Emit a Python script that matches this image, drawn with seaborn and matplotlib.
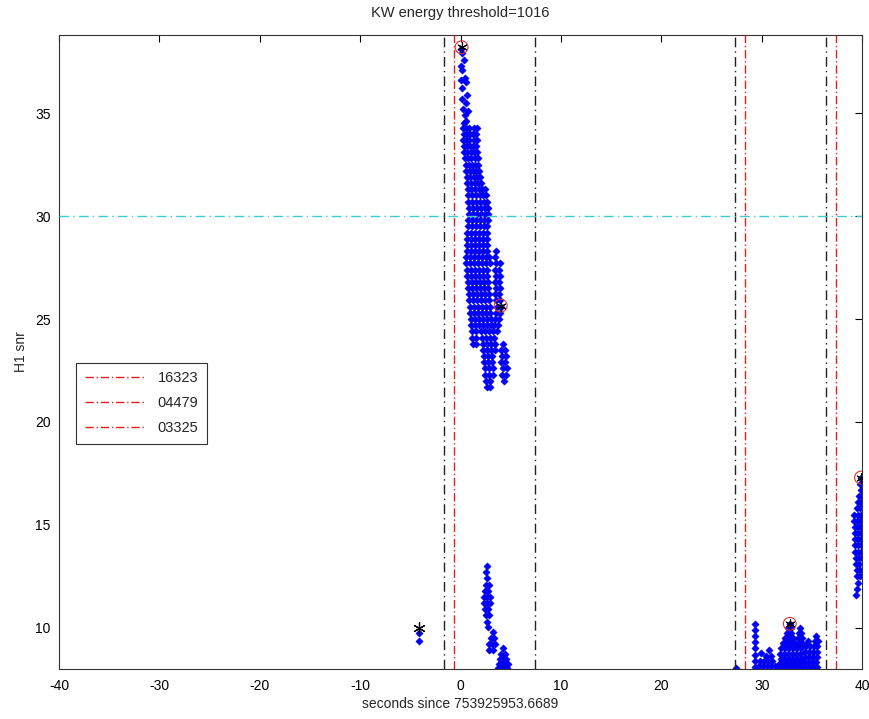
import numpy as np
import pandas as pd
import matplotlib
matplotlib.use("Agg")
import matplotlib.pyplot as plt
import seaborn as sns
from matplotlib.lines import Line2D

# sparse tail at the top of the main burst (x, y)
top_x = [0.07, 0.17, 0.3, 0.07, 0.17, 0.4, 0.07, 0.5, 0.17, 0.67, 0.17, 0.5, 0.23, 0.77, 0.4, 0.57, 0.33]
top_y = [38.1, 37.9, 37.6, 37.3, 37.1, 36.7, 36.6, 36.5, 36.2, 35.9, 35.7, 35.5, 35.2, 35.1, 34.9, 34.6, 34.5]

# dense part of the main burst, one row per y value
main_rows_y = [34.3, 34.0, 33.7, 33.4, 33.1, 32.8, 32.5, 32.2, 31.9, 31.6, 31.3, 31.0, 30.7, 30.4,
               30.1, 29.8, 29.5, 29.2, 28.9, 28.6, 28.3, 28.0, 27.7, 27.4, 27.1, 26.8, 26.5, 26.2,
               25.9, 25.6, 25.3, 25.0, 24.7, 24.4, 24.1, 23.8, 23.5, 23.2, 22.9, 22.6, 22.3, 22.0, 21.7]
main_rows_x = [
    [0.2, 0.5, 0.8, 1.3, 1.6], [0.3, 0.6, 0.9, 1.2, 1.5], [0.2, 0.5, 0.8, 1.3, 1.6],
    [0.3, 0.6, 0.9, 1.2, 1.5], [0.3, 0.6, 1.0, 1.3, 1.6], [0.4, 0.7, 1.0, 1.4, 1.7],
    [0.5, 0.8, 1.1, 1.4, 1.7], [0.5, 0.9, 1.2, 1.5, 1.8], [0.6, 0.9, 1.3, 1.6, 1.9],
    [0.6, 1.0, 1.4, 1.7, 2.0], [0.7, 1.0, 1.4, 1.8, 2.1, 2.4], [0.7, 1.1, 1.5, 1.9, 2.2, 2.5],
    [0.7, 1.1, 1.5, 1.9, 2.3, 2.6], [0.8, 1.2, 1.6, 2.0, 2.4, 2.7], [0.8, 1.2, 1.6, 2.0, 2.4, 2.7],
    [0.7, 1.1, 1.5, 1.9, 2.3, 2.7], [0.7, 1.1, 1.5, 1.9, 2.3, 2.6], [0.6, 1.0, 1.4, 1.8, 2.2, 2.6],
    [0.6, 1.0, 1.4, 1.8, 2.2, 2.6], [0.6, 1.0, 1.4, 1.8, 2.2, 2.6], [0.6, 1.0, 1.4, 1.8, 2.2, 2.6, 3.5],
    [0.5, 0.9, 1.3, 1.7, 2.1, 2.5, 2.8, 3.4], [0.5, 0.9, 1.3, 1.7, 2.1, 2.5, 2.9, 3.5, 3.9],
    [0.6, 1.0, 1.4, 1.8, 2.2, 2.6, 3.4, 3.8], [0.6, 1.0, 1.4, 1.8, 2.2, 2.6, 3.5, 3.9],
    [0.7, 1.1, 1.5, 1.9, 2.3, 2.7, 3.4, 3.8], [0.7, 1.1, 1.5, 1.9, 2.3, 2.7, 3.5, 3.9],
    [0.8, 1.2, 1.6, 2.0, 2.4, 2.8, 3.4, 3.8], [0.8, 1.2, 1.6, 2.0, 2.4, 2.8, 3.5, 3.9],
    [0.9, 1.3, 1.7, 2.1, 2.5, 2.9, 3.6, 4.0], [0.9, 1.3, 1.7, 2.1, 2.5, 2.9, 3.5, 3.9],
    [1.0, 1.4, 1.8, 2.2, 2.6, 3.0, 3.4, 3.8], [1.0, 1.4, 1.8, 2.2, 2.6, 3.0, 3.3, 3.7],
    [1.1, 1.5, 2.0, 2.4, 2.8, 3.2, 3.6], [1.1, 1.5, 2.1, 2.5, 2.9, 3.3],
    [1.2, 1.5, 2.2, 2.6, 3.0, 3.4, 4.2], [2.2, 2.6, 3.0, 3.4, 4.0, 4.4], [2.3, 2.7, 3.1, 4.1, 4.5],
    [2.3, 2.7, 3.1, 4.0, 4.4], [2.4, 2.8, 3.2, 4.2, 4.6], [2.4, 2.8, 3.2, 4.1, 4.5],
    [2.5, 2.9, 4.3], [2.6, 2.9],
]

# low-snr trail below the main burst
low_x = [2.6, 2.5, 2.6, 2.5, 2.8, 2.4, 2.7, 2.3, 2.6, 2.9, 2.3, 2.6, 2.9, 2.4, 2.7, 2.5, 2.8, 2.6, 2.7,
         3.2, 3.0, 3.3, 2.8, 3.1, 3.4, 2.8, 3.2,
         4.2, 4.0, 4.4, 3.9, 4.2, 4.5, 3.8, 4.1, 4.4, 4.7, 3.7, 4.0, 4.3, 4.6]
low_y = [13.0, 12.7, 12.4, 12.1, 12.1, 11.8, 11.8, 11.5, 11.5, 11.5, 11.2, 11.2, 11.2, 10.9, 10.9, 10.6, 10.6, 10.3, 10.05,
         9.8, 9.5, 9.5, 9.2, 9.2, 9.2, 8.9, 8.9,
         9.0, 8.75, 8.75, 8.5, 8.5, 8.5, 8.25, 8.25, 8.25, 8.25, 8.05, 8.05, 8.05, 8.05]

# isolated points left of zero
iso_x = [-4.16, -4.16]
iso_y = [9.74, 9.38]

# late clusters between 27 and 36 s
late_x = [27.4,
          29.3, 29.3, 29.3, 29.3, 29.3, 29.3, 29.3, 29.3,
          30.7, 30.4, 30.9, 29.9, 29.8, 30.2, 30.6, 31.0, 29.7, 30.1, 30.5, 30.9, 31.3,
          32.8, 32.6, 32.9, 33.8, 32.5, 32.9, 33.7, 33.9, 32.3, 32.7, 33.1, 33.6, 34.0,
          32.1, 32.5, 32.9, 33.3, 33.7, 34.0, 31.9, 32.3, 32.7, 33.1, 33.5, 33.9,
          31.8, 32.2, 32.6, 33.0, 33.4, 33.8, 31.9, 32.3, 32.7, 33.1, 33.5, 33.9,
          31.7, 32.1, 32.5, 32.9, 33.3, 33.7, 34.1, 31.8, 32.2, 32.6, 33.0, 33.4, 33.8,
          35.4, 34.6, 35.3, 35.6, 34.4, 34.8, 35.2, 35.5, 34.3, 34.7, 35.1, 35.5,
          34.3, 34.7, 35.1, 35.5, 34.2, 34.6, 35.0, 35.4, 34.3, 34.7, 35.1, 35.5]
late_y = [8.05,
          10.2, 9.9, 9.6, 9.3, 9.0, 8.7, 8.4, 8.1,
          8.9, 8.65, 8.65, 8.8, 8.4, 8.4, 8.4, 8.4, 8.15, 8.15, 8.15, 8.15, 8.15,
          10.2, 10.0, 10.0, 10.0, 9.75, 9.75, 9.75, 9.75, 9.5, 9.5, 9.5, 9.5, 9.5,
          9.25, 9.25, 9.25, 9.25, 9.25, 9.25, 9.0, 9.0, 9.0, 9.0, 9.0, 9.0,
          8.75, 8.75, 8.75, 8.75, 8.75, 8.75, 8.5, 8.5, 8.5, 8.5, 8.5, 8.5,
          8.25, 8.25, 8.25, 8.25, 8.25, 8.25, 8.25, 8.05, 8.05, 8.05, 8.05, 8.05, 8.05,
          9.6, 9.35, 9.35, 9.35, 9.1, 9.1, 9.1, 9.1, 8.85, 8.85, 8.85, 8.85,
          8.6, 8.6, 8.6, 8.6, 8.35, 8.35, 8.35, 8.35, 8.1, 8.1, 8.1, 8.1]

# column at the right edge
edge_x = [39.9, 39.8, 39.9, 39.7, 40.0, 39.6, 39.9, 39.5, 39.8, 39.2, 39.6, 39.9, 39.2, 39.5, 39.8,
          39.3, 39.6, 39.9, 39.3, 39.6, 39.9, 39.3, 39.6, 39.9, 39.3, 39.6, 39.9, 39.3, 39.6, 39.9,
          39.4, 39.7, 40.0, 39.4, 39.7, 39.5, 39.8, 39.5, 39.8, 39.6, 39.5, 39.4]
edge_y = [17.3, 17.0, 16.7, 16.4, 16.4, 16.1, 16.1, 15.8, 15.8, 15.5, 15.5, 15.5, 15.2, 15.2, 15.2,
          14.9, 14.9, 14.9, 14.6, 14.6, 14.6, 14.3, 14.3, 14.3, 14.0, 14.0, 14.0, 13.7, 13.7, 13.7,
          13.4, 13.4, 13.4, 13.1, 13.1, 12.8, 12.8, 12.5, 12.5, 12.2, 11.9, 11.6]

# loudest triggers (circled) and the lone star
peak_x = [0.1, 4.0, 32.8, 39.9]
peak_y = [38.2, 25.65, 10.2, 17.3]
star_x = [-4.16]
star_y = [10.0]

# veto segment boundaries
black_lines = [-1.7, 7.4, 27.3, 36.4]
red_lines = [-0.7, 28.3, 37.4]
red_labels = ["16323", "04479", "03325"]
snr_threshold = 30

# flatten the row table into one frame
mx, my = [], []
for yv, xs in zip(main_rows_y, main_rows_x):
    mx += xs
    my += [yv] * len(xs)
df = pd.DataFrame({
    "t": top_x + mx + low_x + iso_x + late_x + edge_x,
    "snr": top_y + my + low_y + iso_y + late_y + edge_y,
})

sns.set_style("white")
plt.rcParams["font.family"] = ["Liberation Sans", "DejaVu Sans"]
plt.rcParams["axes.unicode_minus"] = False

fig = plt.figure(figsize=(8.69, 7.19), dpi=100)
ax = fig.add_axes([0.068, 0.0695, 0.924, 0.882])

sns.scatterplot(data=df, x="t", y="snr", color="#0000ff", marker="D", s=14,
                linewidth=0.3, edgecolor="#0000cc", ax=ax, zorder=2, legend=False)

for xv in black_lines:
    ax.axvline(xv, color="#222222", lw=1, ls=(0, (7, 3, 1, 3)), zorder=3)
for xv in red_lines:
    ax.axvline(xv, color="#e02020", lw=1, ls=(0, (6, 2, 1, 2)), zorder=3)
ax.axhline(snr_threshold, color="#40cccc", lw=1, ls=(0, (7, 3, 1, 3)), zorder=3)

ax.scatter(peak_x, peak_y, s=85, facecolors="none", edgecolors="#e03030", lw=0.8, zorder=4)
ax.scatter(peak_x, peak_y, s=45, marker=(6, 2, 0), color="black", lw=0.8, zorder=5)
ax.scatter(star_x, star_y, s=70, marker=(6, 2, 0), color="black", lw=0.9, zorder=5)

ax.set_xlim(-40, 40)
ax.set_ylim(8, 38.8)
ax.set_xticks(np.arange(-40, 41, 10))
ax.set_yticks(np.arange(10, 36, 5))
ax.tick_params(direction="in", length=5, width=0.8, top=True, right=True,
               labelsize=10, colors="black")
ax.tick_params(axis="x", pad=7)
ax.tick_params(axis="y", pad=6)
for sp in ax.spines.values():
    sp.set_color("#333333")
    sp.set_linewidth(0.8)

ax.set_xlabel("seconds since 753925953.6689", fontsize=10, labelpad=3)
ax.set_ylabel("H1 snr", fontsize=10, labelpad=5)
ax.set_title("KW energy threshold=1016", fontsize=10.5, pad=13)

handles = [Line2D([0], [0], color="#e02020", lw=1, ls=(0, (6, 2, 1, 2))) for _ in red_labels]
leg = ax.legend(handles, red_labels, loc="upper left", bbox_to_anchor=(0.021, 0.483),
                borderaxespad=0, fontsize=10.5, frameon=True, fancybox=False, edgecolor="black",
                handlelength=4.2, borderpad=0.6, labelspacing=0.75)
leg.get_frame().set_linewidth(0.8)

plt.savefig("out.png", dpi=100)
plt.close()
